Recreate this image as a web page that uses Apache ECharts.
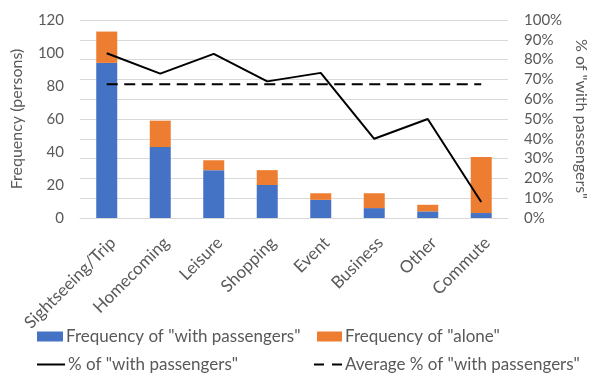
<!DOCTYPE html>
<html>
<head>
<meta charset="utf-8">
<script src="https://cdn.jsdelivr.net/npm/echarts@6/dist/echarts.min.js"></script>
<style>
  html, body { margin: 0; padding: 0; background: #fff; }
  #chart { width: 597px; height: 378px; }
</style>
</head>
<body>
<div id="chart"></div>
<script>
// Trip purposes
const categories = ['Sightseeing/Trip', 'Homecoming', 'Leisure', 'Shopping', 'Event', 'Business', 'Other', 'Commute'];
// Number of trips with passengers / alone
const withPassengers = [94, 43, 29, 20, 11, 6, 4, 3];
const alone = [19, 16, 6, 9, 4, 9, 4, 34];
// Share of trips with passengers (%)
const pctWithPassengers = [83.2, 72.9, 82.9, 69.0, 73.3, 40.0, 50.0, 8.1];
// Overall average share with passengers (%)
const avgPctWithPassengers = [67.5, 67.5, 67.5, 67.5, 67.5, 67.5, 67.5, 67.5];
// Axis ticks
const freqTicks = { min: 0, max: 120, interval: 20 };
const pctTicks = { min: 0, max: 100, interval: 10 };

const FONT = 'Lato';
const TEXT = '#595959';

const names = {
  withP: 'Frequency of "with passengers"',
  alone: 'Frequency of "alone"',
  pct: '% of "with passengers"',
  avg: 'Average % of "with passengers"'
};

const solidIcon = 'path://M0,0H28V2H0Z';
const dashIcon = 'path://M0,0H10V2H0Z M18,0H28V2H18Z';

function legendAt(name, left, top, icon, w, h) {
  return {
    data: [{ name: name, icon: icon }],
    left: left, top: top,
    itemWidth: w, itemHeight: h, itemGap: 0,
    padding: 0,
    selectedMode: false,
    textStyle: { color: TEXT, fontFamily: FONT, fontSize: 17, padding: [0, 0, 0, -2] }
  };
}

const chart = echarts.init(document.getElementById('chart'), null, { renderer: 'canvas' });
chart.setOption({
  animation: false,
  backgroundColor: '#ffffff',
  textStyle: { fontFamily: FONT },
  grid: { left: 80, right: 80, top: 20, bottom: 160, containLabel: false },
  legend: [
    legendAt(names.withP, 37, 328, 'rect', 26, 10),
    legendAt(names.alone, 317, 328, 'rect', 25, 10),
    legendAt(names.pct, 37, 356, solidIcon, 28, 2),
    legendAt(names.avg, 314, 356, dashIcon, 28, 2)
  ],
  xAxis: {
    type: 'category',
    data: categories,
    axisLine: { show: true, lineStyle: { color: '#d9d9d9', width: 1 } },
    axisTick: { show: false },
    axisLabel: {
      rotate: 45, color: TEXT, fontFamily: FONT, fontSize: 17, margin: 16, interval: 0,
      align: 'right', verticalAlign: 'top'
    }
  },
  yAxis: [
    {
      type: 'value',
      min: freqTicks.min, max: freqTicks.max, interval: freqTicks.interval,
      name: 'Frequency (persons)',
      nameLocation: 'middle',
      nameRotate: 90,
      nameGap: 55,
      nameTextStyle: { color: TEXT, fontFamily: FONT, fontSize: 16 },
      axisLine: { show: false },
      axisTick: { show: false },
      splitLine: { show: false },
      axisLabel: { color: TEXT, fontFamily: FONT, fontSize: 15, margin: 16 }
    },
    {
      type: 'value',
      position: 'right',
      min: pctTicks.min, max: pctTicks.max, interval: pctTicks.interval,
      name: '% of "with passengers"',
      nameLocation: 'middle',
      nameRotate: -90,
      nameGap: 65,
      nameTextStyle: { color: TEXT, fontFamily: FONT, fontSize: 16 },
      axisLine: { show: false },
      axisTick: { show: false },
      splitLine: { show: true, lineStyle: { color: '#d9d9d9', width: 1 } },
      axisLabel: { color: TEXT, fontFamily: FONT, fontSize: 15, margin: 16, formatter: '{value}%' }
    }
  ],
  series: [
    {
      name: names.withP,
      type: 'bar',
      stack: 'freq',
      yAxisIndex: 0,
      barWidth: 21,
      data: withPassengers,
      itemStyle: { color: '#4472C4' }
    },
    {
      name: names.alone,
      type: 'bar',
      stack: 'freq',
      yAxisIndex: 0,
      barWidth: 21,
      data: alone,
      itemStyle: { color: '#ED7D31' }
    },
    {
      name: names.pct,
      type: 'line',
      yAxisIndex: 1,
      data: pctWithPassengers,
      symbol: 'none',
      lineStyle: { color: '#000000', width: 2 },
      itemStyle: { color: '#000000' }
    },
    {
      name: names.avg,
      type: 'line',
      yAxisIndex: 1,
      data: avgPctWithPassengers,
      symbol: 'none',
      lineStyle: { color: '#000000', width: 2, type: [11, 6.5] },
      itemStyle: { color: '#000000' }
    }
  ]
});
</script>
</body>
</html>
